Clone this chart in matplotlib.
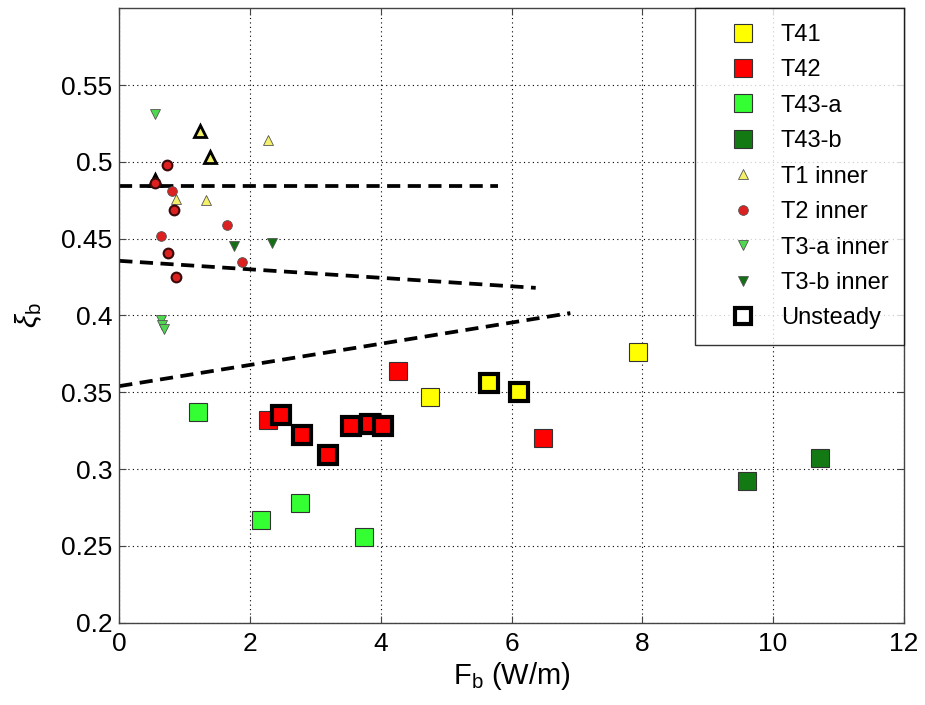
import numpy as np
import matplotlib.pyplot as plt

plt.rcParams['font.family'] = ['Liberation Sans', 'DejaVu Sans']
plt.rcParams['mathtext.fontset'] = 'custom'
plt.rcParams['mathtext.rm'] = 'Liberation Sans'
plt.rcParams['mathtext.it'] = 'Liberation Sans:italic'

# steady large squares
t41_x = [4.76, 7.94]
t41_y = [0.347, 0.376]
t42_x = [2.28, 4.26, 6.48]
t42_y = [0.332, 0.364, 0.320]
t43a_x = [1.21, 2.17, 2.76, 3.75]
t43a_y = [0.337, 0.267, 0.278, 0.256]
t43b_x = [9.60, 10.72]
t43b_y = [0.292, 0.307]

# unsteady large squares
t41u_x = [5.66, 6.11]
t41u_y = [0.356, 0.350]
t42u_x = [2.48, 2.80, 3.20, 3.54, 3.84, 4.04]
t42u_y = [0.335, 0.322, 0.309, 0.328, 0.3295, 0.328]

# inner points
t1_x = [2.27, 0.86, 1.32]
t1_y = [0.514, 0.476, 0.475]
t1u_x = [1.24, 1.38, 0.55]
t1u_y = [0.520, 0.503, 0.488]
t2_x = [0.81, 1.64, 0.63, 1.87]
t2_y = [0.481, 0.459, 0.452, 0.435]
t2u_x = [0.55, 0.73, 0.84, 0.75, 0.87]
t2u_y = [0.486, 0.498, 0.469, 0.441, 0.425]
t3a_x = [0.55, 0.63, 0.66, 0.68]
t3a_y = [0.531, 0.397, 0.394, 0.391]
t3b_x = [1.76, 2.33]
t3b_y = [0.445, 0.447]

# dashed fit lines
line1_x = [0.0, 5.8]
line1_y = [0.4845, 0.4845]
line2_x = [0.0, 6.37]
line2_y = [0.4356, 0.418]
line3_x = [0.0, 6.9]
line3_y = [0.354, 0.4016]

c_yel = '#ffff00'
c_red = '#ff0000'
c_lgr = '#33ff33'
c_dgr = '#137a13'
c_t1 = '#f4f06a'
c_t2 = '#dd2020'
c_t3a = '#4fd84f'
c_t3b = '#156f15'

fig = plt.figure(figsize=(9.25, 7.05), dpi=100)
ax = fig.add_axes([0.129, 0.117, 0.848, 0.871])

ax.grid(True, linestyle=(0, (1, 3)), color='k', linewidth=0.8)
ax.set_axisbelow(True)

dash = (0, (3.5, 2))
for lx, ly in [(line1_x, line1_y), (line2_x, line2_y), (line3_x, line3_y)]:
    ax.plot(lx, ly, color='k', linestyle=dash, linewidth=2.7)

big = 13
small = 7
ax.plot(t41_x, t41_y, 's', ms=big, mfc=c_yel, mec='#333333', mew=0.8, label='T41')
ax.plot(t42_x, t42_y, 's', ms=big, mfc=c_red, mec='#333333', mew=0.8, label='T42')
ax.plot(t43a_x, t43a_y, 's', ms=big, mfc=c_lgr, mec='#333333', mew=0.8, label='T43-a')
ax.plot(t43b_x, t43b_y, 's', ms=big, mfc=c_dgr, mec='#333333', mew=0.8, label='T43-b')
ax.plot(t1_x, t1_y, '^', ms=small, mfc=c_t1, mec='#555555', mew=0.6, label='T1 inner')
ax.plot(t2_x, t2_y, 'o', ms=small, mfc=c_t2, mec='#555555', mew=0.6, label='T2 inner')
ax.plot(t3a_x, t3a_y, 'v', ms=small, mfc=c_t3a, mec='#555555', mew=0.6, label='T3-a inner')
ax.plot(t3b_x, t3b_y, 'v', ms=small, mfc=c_t3b, mec='#555555', mew=0.6, label='T3-b inner')

# unsteady points drawn with heavy black edge
ax.plot(t41u_x, t41u_y, 's', ms=big, mfc=c_yel, mec='k', mew=3)
ax.plot(t42u_x, t42u_y, 's', ms=big, mfc=c_red, mec='k', mew=3)
ax.plot(t1u_x, t1u_y, '^', ms=small + 1, mfc=c_t1, mec='k', mew=2)
ax.plot(t2u_x, t2u_y, 'o', ms=small, mfc=c_t2, mec='#3a0a0a', mew=1.5)
ax.plot([], [], 's', ms=11, mfc='white', mec='k', mew=3, label='Unsteady')

ax.set_xlim(0, 12)
ax.set_ylim(0.2, 0.6)
ax.set_xticks(np.arange(0, 13, 2))
ax.set_yticks([0.2, 0.25, 0.3, 0.35, 0.4, 0.45, 0.5, 0.55])
ax.set_yticklabels(['0.2', '0.25', '0.3', '0.35', '0.4', '0.45', '0.5', '0.55'])
ax.tick_params(direction='in', top=True, right=True, labelsize=19, length=5,
               color='#444444', pad=5)
ax.tick_params(axis='x', pad=7)
for s in ax.spines.values():
    s.set_linewidth(1.0)
    s.set_color('#444444')

ax.set_xlabel(r'F$_\mathregular{b}$ (W/m)', fontsize=21, labelpad=3)
ax.set_ylabel(r'$\xi_\mathregular{b}$', fontsize=21, labelpad=12)

leg = ax.legend(loc='upper right', fontsize=17, frameon=True, fancybox=False,
                edgecolor='k', labelspacing=0.57, borderaxespad=0.0,
                handletextpad=0.2, borderpad=0.65, handlelength=2.8)
leg.get_frame().set_linewidth(1.0)

fig.savefig('out.png', dpi=100)
